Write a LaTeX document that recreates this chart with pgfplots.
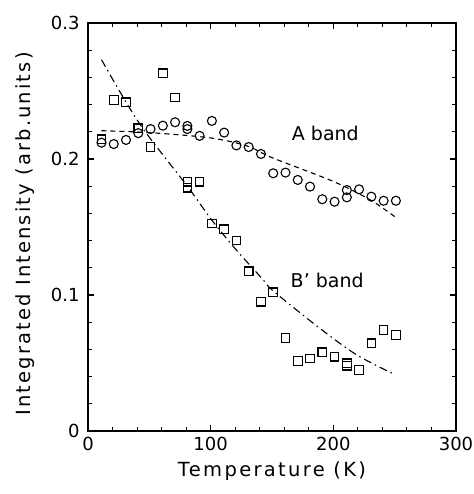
\documentclass[border=0pt]{standalone}
\usepackage{pgfplots}
\pgfplotsset{compat=1.18}
\usepackage{fontspec}
\setmainfont{DejaVu Sans}
\begin{document}
\begin{tikzpicture}[font=\fontsize{19bp}{23bp}\selectfont]
\begin{axis}[
  scale only axis, width=368bp, height=408bp,
  xmin=0, xmax=300, ymin=0, ymax=0.3,
  xtick={0,100,200,300}, xticklabels={0,100,200,300},
  ytick={0,0.1,0.2,0.3}, yticklabels={0,0.1,0.2,0.3},
  minor x tick num=4, minor y tick num=4,
  tick align=inside,
  major tick length=6bp, minor tick length=4bp,
  axis line style={line width=1.5bp},
  every tick/.style={line width=1.1bp, black},
  /pgf/number format/assume math mode=true,
  tick label style={font=\fontsize{18bp}{22bp}\selectfont},
  label style={font=\fontsize{19.5bp}{23bp}\selectfont},
  xticklabel style={yshift=-3bp},
  yticklabel style={xshift=-5bp},
  xlabel={\addfontfeature{LetterSpace=12}Temperature (K)},
  ylabel={\addfontfeature{LetterSpace=11}Integrated Intensity (arb.units)},
  xlabel style={yshift=-4bp},
  ylabel style={yshift=9bp, xshift=-7bp},
  clip=false,
]
% A band (circles)
\addplot[only marks, mark=o, mark size=4.5bp, mark options={line width=1.1bp, black}] coordinates {
(11,0.212)(21,0.211)(31,0.214)(41,0.219)(51,0.222)(61,0.2245)(71,0.227)(81,0.2243)(81,0.222)(91,0.217)(101,0.228)(111,0.2194)(121,0.210)(131,0.2088)(141,0.2037)(151,0.1895)(161,0.190)(171,0.1846)(181,0.1797)(191,0.1704)(201,0.1686)(211,0.1772)(211,0.1718)(221,0.1777)(231,0.1723)(241,0.1693)(251,0.1693)
};
% B' band (squares)
\addplot[only marks, mark=square, mark size=4.3bp, mark options={line width=1.1bp, black}] coordinates {
(11,0.2145)(21,0.2434)(31,0.2417)(41,0.2226)(51,0.209)(61,0.263)(71,0.2453)(81,0.1833)(81,0.1789)(91,0.1833)(101,0.1525)(111,0.1483)(121,0.140)(131,0.1174)(141,0.0951)(151,0.102)(161,0.0682)(171,0.0515)(181,0.0534)(191,0.0579)(201,0.0546)(211,0.0498)(211,0.048)(221,0.0449)(231,0.0645)(241,0.0743)(251,0.0706)
};
% fit A (dashed)
\addplot[smooth, black, line width=1.1bp, dash pattern=on 5bp off 4bp] coordinates {
(11,0.2208)(50,0.2194)(100,0.2155)(130,0.2095)(150,0.2010)(200,0.1835)(230,0.1700)(251,0.157)
};
% fit B' (dash-dot)
\addplot[smooth, black, line width=1.1bp, dash pattern=on 8bp off 4bp on 1.5bp off 4bp] coordinates {
(11,0.273)(42,0.226)(81,0.180)(101,0.155)(121,0.133)(142,0.112)(151,0.103)(189,0.0755)(219,0.056)(249,0.042)
};
\node at (axis cs:193.5,0.219) {A band};
\node at (axis cs:195,0.1105) {B' band};
\end{axis}
\pgfresetboundingbox
\path ([shift={(-88bp,-63bp)}]current axis.south west) rectangle ([shift={(18bp,23bp)}]current axis.north east);
\end{tikzpicture}
\end{document}
